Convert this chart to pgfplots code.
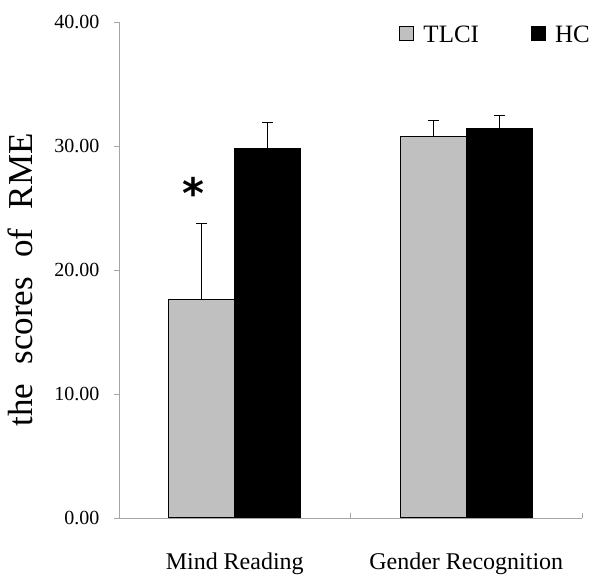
\documentclass[border=0pt]{standalone}
\usepackage{fontspec}
\setmainfont{Liberation Serif}
\newfontfamily\astfont{DejaVu Sans}
\usepackage{pgfplots}
\pgfplotsset{compat=1.18}
\definecolor{barGray}{RGB}{192,192,192}
\definecolor{axGray}{RGB}{165,165,165}
\begin{document}
\begin{tikzpicture}[x=1pt,y=1pt]
\useasboundingbox (0,0) rectangle (600,578);
\begin{axis}[
  at={(119pt,60pt)}, anchor=south west,
  scale only axis, width=463pt, height=496pt,
  xmin=-0.5, xmax=1.5, ymin=0, ymax=40,
  axis x line*=bottom, axis y line*=left,
  axis line style={axGray, line width=0.8pt},
  ytick={0,10,20,30,40},
  yticklabel style={/pgf/number format/fixed, /pgf/number format/fixed zerofill, /pgf/number format/precision=2, /pgf/number format/assume math mode=true},
  y tick label style={font=\fontsize{20}{22}\selectfont, xshift=-11pt},
  tick align=outside, major tick length=5pt,
  ytick style={axGray, line width=0.8pt},
  xtick={0,1}, xticklabels={Mind Reading, Gender Recognition},
  x tick label style={font=\fontsize{24}{26}\selectfont, yshift=-26pt},
  major x tick style={draw=none},
  minor xtick={-0.5,0.5,1.5},
  minor tick length=-5pt,
  minor x tick style={axGray, line width=0.8pt},
  ybar=0pt, bar width=66pt,
  legend style={draw=none, fill=none, at={(1.028,1.0)}, anchor=north east,
    legend columns=2, font=\fontsize{25}{27}\selectfont,
    /tikz/every odd column/.append style={column sep=7pt},
    /tikz/every even column/.append style={column sep=50pt}},
  legend image code/.code={\draw[#1, line width=1pt] (0pt,-5pt) rectangle (14pt,9pt);},
]
\addplot[fill=barGray, draw=black, line width=1pt,
  error bars/.cd, y dir=plus, y explicit,
  error bar style={black, line width=1pt},
  error mark options={rotate=90, mark size=5.5pt, line width=1pt, black}]
  coordinates {(0,17.66) +- (0,6.11) (1,30.73) +- (0,1.31)};
\addplot[fill=black, draw=black, line width=1pt,
  error bars/.cd, y dir=plus, y explicit,
  error bar style={black, line width=1pt},
  error mark options={rotate=90, mark size=5.5pt, line width=1pt, black}]
  coordinates {(0,29.78) +- (0,2.12) (1,31.43) +- (0,1.04)};
\legend{TLCI, HC}
\node[font=\astfont\bfseries\fontsize{42}{42}\selectfont] at (axis cs:-0.18,26.2) {*};
\end{axis}
\node[rotate=90, font=\fontsize{35}{38}\selectfont] at (20pt,298pt) {the\hspace{0.55em}scores\hspace{0.55em}of\hspace{0.55em}RME};
\end{tikzpicture}
\end{document}
